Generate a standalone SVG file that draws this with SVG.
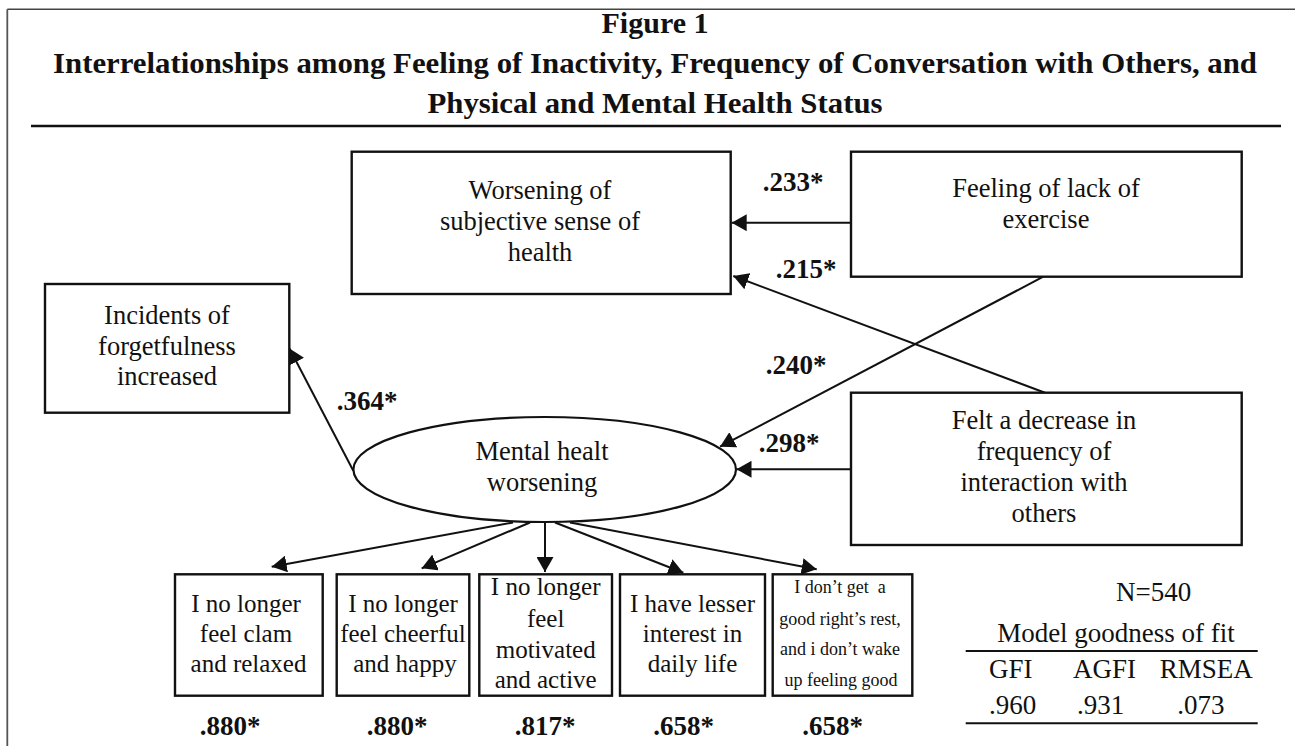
<svg xmlns="http://www.w3.org/2000/svg" width="1295" height="746" viewBox="0 0 1295 746">
<style>
  .t { font-family: "Liberation Serif", "Times New Roman", serif; fill: #111; text-anchor: middle; }
  .title { font-size: 30px; font-weight: bold; }
  .node { font-size: 26.5px; }
  .small { font-size: 25px; }
  .tiny { font-size: 18px; }
  .coef { font-size: 27px; font-weight: bold; }
  .fit { font-size: 27px; }
  .box { fill: #fff; stroke: #111; stroke-width: 2.4; }
  .conn line { stroke: #111; stroke-width: 2; marker-end: url(#ah); }
</style>
<defs>
  <marker id="ah" markerUnits="userSpaceOnUse" markerWidth="16" markerHeight="17" refX="15" refY="8.5" orient="auto">
    <path d="M0,0 L15,8.5 L0,17 z" fill="#111"/>
  </marker>
</defs>
<rect width="1295" height="746" fill="#fff"/>

<!-- frame and title -->
<g id="frame">
  <line x1="7.3" y1="9.3" x2="1295" y2="9.3" stroke="#444" stroke-width="1.6"/>
  <line x1="7.3" y1="9.3" x2="7.3" y2="746" stroke="#555" stroke-width="1.8"/>
  <line x1="31" y1="126" x2="1281" y2="126" stroke="#111" stroke-width="2.6"/>
</g>
<g id="title">
  <text class="t title" x="655" y="33.3">Figure 1</text>
  <text class="t title" x="655" y="72.7" textLength="1204" lengthAdjust="spacingAndGlyphs">Interrelationships among Feeling of Inactivity, Frequency of Conversation with Others, and</text>
  <text class="t title" x="655" y="113.3" textLength="455" lengthAdjust="spacingAndGlyphs">Physical and Mental Health Status</text>
</g>

<!-- connectors -->
<g id="connectors" class="conn">
  <line x1="851" y1="222.7" x2="731.7" y2="222.7"/>
  <line x1="1045" y1="392.7" x2="733.3" y2="276"/>
  <line x1="1043.3" y1="276.7" x2="720" y2="446.7"/>
  <line x1="851" y1="469.3" x2="736.5" y2="469.3"/>
  <line x1="353.3" y1="470.7" x2="289.5" y2="348.5"/>
  <line x1="513" y1="522.5" x2="271.7" y2="566.7"/>
  <line x1="530" y1="522.5" x2="421.7" y2="568.3"/>
  <line x1="545" y1="522.5" x2="545" y2="572"/>
  <line x1="555" y1="522.5" x2="683.3" y2="572.7"/>
  <line x1="570" y1="522.5" x2="816.7" y2="569.3"/>
</g>

<!-- coefficient labels -->
<g id="coefficients">
  <text class="t coef" x="793" y="190.7">.233*</text>
  <text class="t coef" x="806" y="278.3">.215*</text>
  <text class="t coef" x="796" y="374.3">.240*</text>
  <text class="t coef" x="789" y="451.7">.298*</text>
  <text class="t coef" x="367" y="410">.364*</text>
  <text class="t coef" x="230" y="735">.880*</text>
  <text class="t coef" x="397" y="735">.880*</text>
  <text class="t coef" x="545" y="735">.817*</text>
  <text class="t coef" x="683.5" y="735">.658*</text>
  <text class="t coef" x="832.5" y="735">.658*</text>
</g>

<g id="worsening">
  <rect class="box" x="351.7" y="151.7" width="379" height="142.3"/>
  <text class="t node" x="540" y="199.3">Worsening of</text>
  <text class="t node" x="540" y="230">subjective sense of</text>
  <text class="t node" x="540" y="260.5">health</text>
</g>

<g id="feeling">
  <rect class="box" x="851" y="151.7" width="390.7" height="125"/>
  <text class="t node" x="1046" y="196.7">Feeling of lack of</text>
  <text class="t node" x="1046" y="228.3">exercise</text>
</g>

<g id="incidents">
  <rect class="box" x="45" y="284" width="244.3" height="128.7"/>
  <text class="t node" x="167" y="324.3">Incidents of</text>
  <text class="t node" x="167" y="354.5">forgetfulness</text>
  <text class="t node" x="167" y="385">increased</text>
</g>

<g id="felt">
  <rect class="box" x="851" y="392.7" width="390.7" height="152.3"/>
  <text class="t node" x="1044" y="429.3">Felt a decrease in</text>
  <text class="t node" x="1044" y="460">frequency of</text>
  <text class="t node" x="1044" y="490.7">interaction with</text>
  <text class="t node" x="1044" y="521.7">others</text>
</g>

<g id="mental">
  <ellipse cx="544.7" cy="469.5" rx="191.3" ry="52.5" fill="#fff" stroke="#111" stroke-width="2.2"/>
  <text class="t node" x="542" y="460">Mental healt</text>
  <text class="t node" x="542" y="490.5">worsening</text>
</g>

<g id="item1">
  <rect class="box" x="175" y="574.3" width="147.7" height="121.4"/>
  <text class="t small" x="246" y="611.7">I no longer</text>
  <text class="t small" x="246" y="641.7">feel clam</text>
  <text class="t small" x="248.5" y="671.7">and relaxed</text>
</g>

<g id="item2">
  <rect class="box" x="336.7" y="574.3" width="132.6" height="121.4"/>
  <text class="t small" x="403" y="611.7">I no longer</text>
  <text class="t small" x="403" y="641.7">feel cheerful</text>
  <text class="t small" x="405" y="671.7">and happy</text>
</g>

<g id="item3">
  <rect class="box" x="479.3" y="574.3" width="132.7" height="121.4"/>
  <text class="t small" x="545.7" y="595">I no longer</text>
  <text class="t small" x="545.7" y="626.7">feel</text>
  <text class="t small" x="545.7" y="657.7">motivated</text>
  <text class="t small" x="545.7" y="688.3">and active</text>
</g>

<g id="item4">
  <rect class="box" x="620" y="574.3" width="145" height="121.4"/>
  <text class="t small" x="692.5" y="611.7">I have lesser</text>
  <text class="t small" x="692.5" y="641.7">interest in</text>
  <text class="t small" x="692.5" y="671.7">daily life</text>
</g>

<g id="item5">
  <rect class="box" x="772.7" y="574.3" width="139.6" height="121.4"/>
  <text class="t tiny" x="840" y="593.3" style="white-space:pre">I don’t get  a</text>
  <text class="t tiny" x="840" y="625">good right’s rest,</text>
  <text class="t tiny" x="840" y="655">and i don’t wake</text>
  <text class="t tiny" x="841" y="685.7">up feeling good</text>
</g>

<g id="fit-table">
  <text class="t fit" x="1153.7" y="600.7">N=540</text>
  <text class="t fit" x="1116" y="641.7">Model goodness of fit</text>
  <line x1="965.7" y1="651" x2="1257.7" y2="651" stroke="#111" stroke-width="2"/>
  <text class="t fit" x="1010.8" y="678.3">GFI</text>
  <text class="t fit" x="1104.5" y="678.3">AGFI</text>
  <text class="t fit" x="1206.3" y="678.3">RMSEA</text>
  <text class="t fit" x="1012.7" y="714.3">.960</text>
  <text class="t fit" x="1100.5" y="714.3">.931</text>
  <text class="t fit" x="1200.8" y="714.3">.073</text>
  <line x1="965.7" y1="723.3" x2="1257.7" y2="723.3" stroke="#111" stroke-width="2"/>
</g>
</svg>
